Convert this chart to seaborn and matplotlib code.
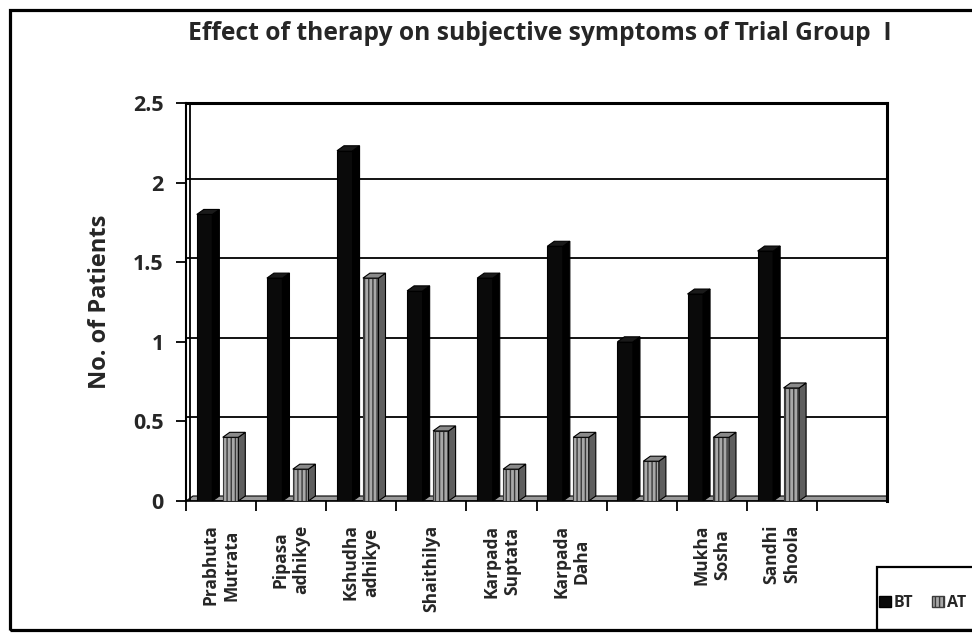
import matplotlib
matplotlib.use("Agg")
import matplotlib.pyplot as plt
import seaborn as sns
import pandas as pd
import numpy as np
from matplotlib.patches import Polygon, Rectangle, Patch

categories = ["Prabhuta\nMutrata", "Pipasa\nadhikye", "Kshudha\nadhikye", "Shaithilya",
              "Karpada\nSuptata", "Karpada\nDaha", " ", "Mukha\nSosha", "Sandhi\nShoola", "  "]
data_categories = categories[:9]
bt_values = [1.8, 1.4, 2.2, 1.32, 1.4, 1.6, 1.0, 1.3, 1.57]
at_values = [0.4, 0.2, 1.4, 0.44, 0.2, 0.4, 0.25, 0.4, 0.71]
series = ["BT", "AT"]
y_ticks = [0, 0.5, 1, 1.5, 2, 2.5]
y_tick_labels = ["0", "0.5", "1", "1.5", "2", "2.5"]

df = pd.DataFrame({
    "Symptom": data_categories * 2,
    "Group": ["BT"] * 9 + ["AT"] * 9,
    "Patients": bt_values + at_values,
})

sns.set_theme(style="white")
plt.rcParams['font.family'] = ['Open Sans', 'DejaVu Sans']
plt.rcParams['font.weight'] = 'bold'

W, H = 972, 639
fig = plt.figure(figsize=(W / 100, H / 100), dpi=100)
ax = fig.add_axes([186 / W, 1 - 501 / H, (887 - 186) / W, (501 - 103) / H])

front_colors = {"BT": "#0a0a0a", "AT": "#a8a8a8"}
sns.barplot(data=df, x="Symptom", y="Patients", hue="Group", order=categories,
            hue_order=series, palette=front_colors, width=0.74, gap=0.4,
            edgecolor="black", linewidth=0.8, legend=False, ax=ax, zorder=3)

ax.set_xlim(-0.5, len(categories) - 0.5)
ax.set_ylim(0, 2.5)

# 3D offsets in data units derived from the axes transform
inv = ax.transData.inverted()
p0 = inv.transform((0, 0))
p1 = inv.transform((7, 5))
dx, dy = p1 - p0

for bar in list(ax.patches):
    x0 = bar.get_x()
    w = bar.get_width()
    h = bar.get_height()
    if not np.isfinite(h) or h <= 0:
        continue
    is_at = np.allclose(bar.get_facecolor()[:3], matplotlib.colors.to_rgb(front_colors["AT"]), atol=0.02)
    # shift the 3D block slightly left, as in the oblique projection of the original
    bar.set_x(x0 - dx * 0.5)
    x0 = bar.get_x()
    if is_at:
        bar.set_hatch("||||")
        bar.set_edgecolor("#3a3a3a")
        side_c, top_c = "#5e5e5e", "#8a8a8a"
    else:
        side_c, top_c = "#000000", "#1a1a1a"
    x1 = x0 + w
    side = Polygon([(x1, 0), (x1 + dx, dy), (x1 + dx, h + dy), (x1, h)],
                   closed=True, facecolor=side_c, edgecolor="black", lw=0.8, zorder=3)
    top = Polygon([(x0, h), (x0 + dx, h + dy), (x1 + dx, h + dy), (x1, h)],
                  closed=True, facecolor=top_c, edgecolor="black", lw=0.8, zorder=3)
    ax.add_patch(side)
    ax.add_patch(top)

# floor
floor = Polygon([(-0.5, 0), (-0.5 + dx, dy), (len(categories) - 0.5, dy),
                 (len(categories) - 0.5, 0)], closed=True, facecolor="#9a9a9a",
                edgecolor="black", lw=0.8, zorder=2)
ax.add_patch(floor)

# gridlines on back wall
for v in y_ticks[1:-1]:
    ax.axhline(v + dy * 0.8, color="black", lw=1.3, zorder=1)

# left wall double line
ax.axvline(-0.5 + dx * 0.6, color="black", lw=1.3, zorder=2)

for s in ["left", "right", "top", "bottom"]:
    ax.spines[s].set_visible(True)
    ax.spines[s].set_color("black")
ax.spines["left"].set_linewidth(1.5)
ax.spines["top"].set_linewidth(2.2)
ax.spines["right"].set_linewidth(2.2)
ax.spines["bottom"].set_linewidth(1.2)

ax.set_yticks(y_ticks)
ax.set_yticklabels(y_tick_labels, fontsize=15.5, fontweight="bold")
ax.tick_params(axis="y", which="major", direction="out", length=7, width=1.3,
               color="black", left=True, pad=9)

ax.set_xticks(range(len(categories)))
ax.set_xticklabels(categories, rotation=90, fontsize=12.5, fontweight="bold",
                   va="top", ha="center", multialignment="center")
ax.tick_params(axis="x", which="major", length=0, pad=17)
ax.set_xticks(np.arange(-0.5, len(categories) - 1, 1.0), minor=True)
ax.tick_params(axis="x", which="minor", direction="out", length=7, width=1.3,
               color="black", bottom=True)

ax.set_xlabel("")
ax.set_ylabel("No. of Patients", fontsize=17, fontweight="bold", labelpad=15)

fig.text(540 / W, 1 - 34 / H, "Effect of therapy on subjective symptoms of Trial Group  I",
         ha="center", va="center", fontsize=17.7, fontweight="bold")

# outer border
fig.add_artist(Rectangle((9.5 / W, 9.5 / H), 1.2, 1 - 19 / H, transform=fig.transFigure,
                         fill=False, edgecolor="black", lw=2.3, zorder=10))

# legend box
fig.add_artist(Rectangle((877 / W, 9.5 / H), 0.3, 63 / H, transform=fig.transFigure,
                         fill=False, edgecolor="black", lw=1.6, zorder=10))
handles = [Patch(facecolor=front_colors["BT"], edgecolor="black", label="BT"),
           Patch(facecolor=front_colors["AT"], edgecolor="#3a3a3a", hatch="||||", label="AT")]
fig.legend(handles=handles, loc="center left", bbox_to_anchor=(879 / W, 1 - 603 / H),
           ncol=2, frameon=False, handlelength=0.75, handleheight=0.75,
           handletextpad=0.15, columnspacing=1.2, borderaxespad=0, borderpad=0,
           prop={"weight": "bold", "size": 11.5})

fig.savefig("out.png", dpi=100)
